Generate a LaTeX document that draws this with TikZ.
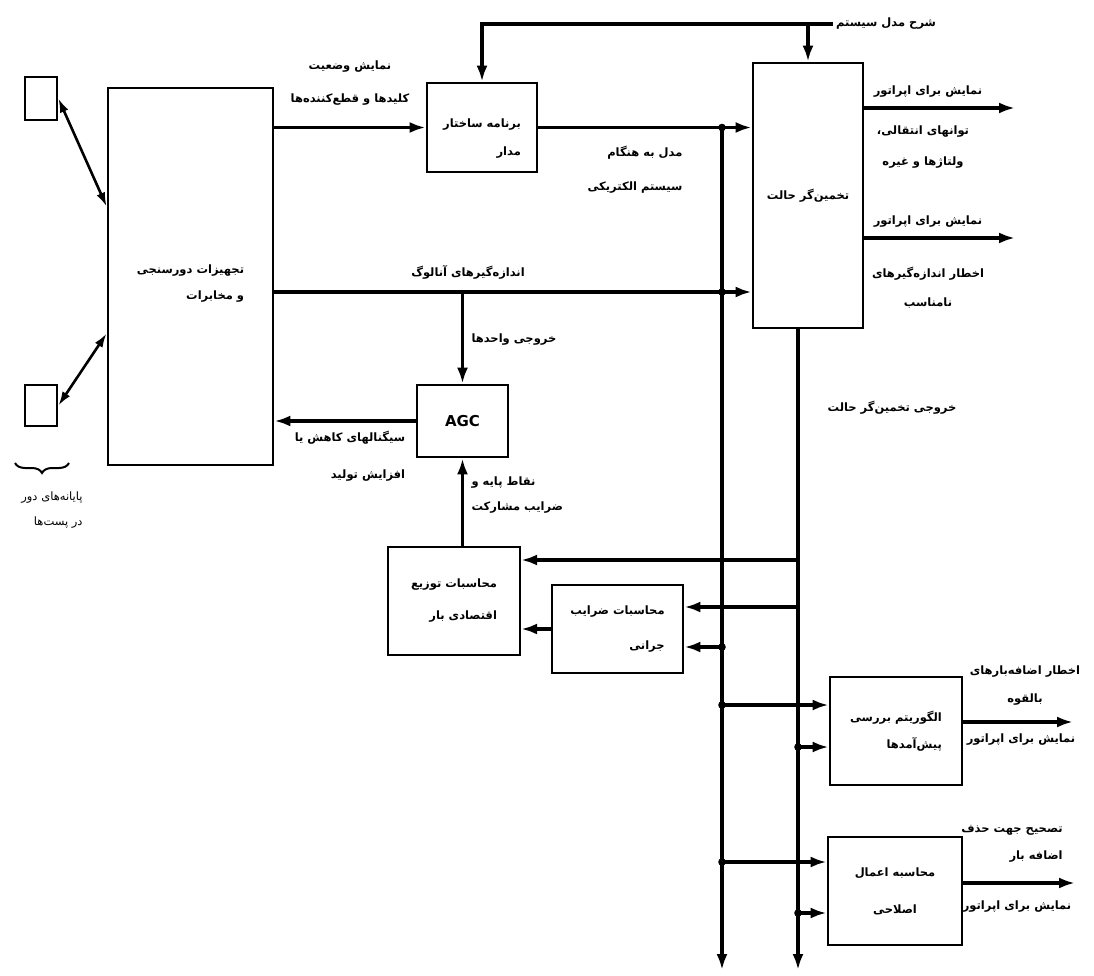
\documentclass[tikz,border=0pt]{standalone}
\usepackage{fontspec}
\usetikzlibrary{arrows.meta,decorations.pathreplacing}
\TeXXeTstate=1
\newfontfamily\persianfont[Script=Arabic]{DejaVu Sans}
\newcommand{\fatxt}[1]{\beginR #1\endR}

\begin{document}
\begin{tikzpicture}[x=1pt,y=-1pt,
  every node/.style={font=\persianfont\bfseries\fontsize{11.5}{30}\selectfont},
  lsp/.style={font=\persianfont\bfseries\fontsize{11.5}{#1}\selectfont},
  block/.style={draw,line width=2.8pt,inner sep=0pt},
  flow/.style={line width=3.3pt,-{Latex[length=16pt,width=11pt]}},
  dual/.style={line width=2.6pt,{Latex[length=14pt,width=9pt]}-{Latex[length=14pt,width=9pt]}}]

  \useasboundingbox (0,0) rectangle (1094,976);

  % blocks
  \node[block,minimum width=32pt,minimum height=43pt] (term1) at (41,98.5) {};
  \node[block,minimum width=32pt,minimum height=41pt] (term2) at (41,405.5) {};
  \node[block,minimum width=165pt,minimum height=377pt] (tele) at (190.5,276.5) {};
  \node[align=right,lsp=26] (teletxt) at ([yshift=-7pt]tele.center)
    {\fatxt{تجهیزات دورسنجی}\\\fatxt{و مخابرات}};
  \node[block,minimum width=110pt,minimum height=89pt] (prog) at (482,127.5) {};
  \node[align=right,lsp=28] (progtxt) at ([yshift=-11pt]prog.center)
    {\fatxt{برنامه ساختار}\\\fatxt{مدار}};
  \node[block,minimum width=110pt,minimum height=265pt] (se) at (808,195.5) {\fatxt{تخمین‌گر حالت}};
  \node[block,minimum width=91pt,minimum height=72pt,font=\persianfont\bfseries\fontsize{15}{18}\selectfont] (agc) at (462.5,421) {AGC};
  \node[block,line width=2.2pt,minimum width=132pt,minimum height=108pt,align=right,lsp=32] (ed) at (454,601)
    {\fatxt{محاسبات توزیع}\\\fatxt{اقتصادی بار}};
  \node[block,minimum width=131pt,minimum height=88pt,align=right,lsp=35] (pf) at (617.5,629)
    {\fatxt{محاسبات ضرایب}\\\fatxt{جرانی}};
  \node[block,minimum width=132pt,minimum height=108pt,align=right,lsp=27] (cont) at (896,731)
    {\fatxt{الگوریتم بررسی}\\\fatxt{پیش‌آمدها}};
  \node[block,minimum width=134pt,minimum height=108pt,align=center,lsp=37] (corr) at (895,891)
    {\fatxt{محاسبه اعمال}\\\fatxt{اصلاحی}};

  % labels
  \node[align=center,lsp=33] (swst) at (350,83.5) {\fatxt{نمایش وضعیت}\\\fatxt{کلیدها و قطع‌کننده‌ها}};
  \node (desc) at (886,24) {\fatxt{شرح مدل سیستم}};
  \node[align=right,lsp=34] (upd) at (635,170) {\fatxt{مدل به هنگام}\\\fatxt{سیستم الکتریکی}};
  \node (op1) at (928,92) {\fatxt{نمایش برای اپراتور}};
  \node[align=center,lsp=31] (flows) at (923,147) {\fatxt{توانهای انتقالی،}\\\fatxt{ولتاژها و غیره}};
  \node (op2) at (928,222) {\fatxt{نمایش برای اپراتور}};
  \node[align=center,lsp=29] (bad) at (928,288) {\fatxt{اخطار اندازه‌گیرهای}\\\fatxt{نامناسب}};
  \node (anlbl) at (468,272) {\fatxt{اندازه‌گیرهای آنالوگ}};
  \node[anchor=west] (units) at (468,340) {\fatxt{خروجی واحدها}};
  \node[align=right,lsp=37] (sig) at (350,456.5) {\fatxt{سیگنالهای کاهش یا}\\\fatxt{افزایش تولید}};
  \node[align=left,lsp=25,anchor=west] (base) at (468,495.5) {\fatxt{نقاط پایه و}\\\fatxt{ضرایب مشارکت}};
  \node (seout) at (892,408) {\fatxt{خروجی تخمین‌گر حالت}};
  \node[align=center,lsp=28] (owarn) at (1025,686) {\fatxt{اخطار اضافه‌بارهای}\\\fatxt{بالقوه}};
  \node (op3) at (1021,740) {\fatxt{نمایش برای اپراتور}};
  \node[align=right,lsp=27] (ccorr) at (1012,843.5) {\fatxt{تصحیح جهت حذف}\\\fatxt{اضافه بار}};
  \node (op4) at (1017,907) {\fatxt{نمایش برای اپراتور}};
  \node[align=right,font=\persianfont\fontsize{11.5}{25}\selectfont] (rtu) at (52,510)
    {\fatxt{پایانه‌های دور}\\\fatxt{در پست‌ها}};

  % bus points
  \coordinate (b1top) at (722,127.5);
  \coordinate (b1end) at (722,970);
  \coordinate (b2end) at (798,970);
  \coordinate (analog) at (462.5,292);
  \coordinate (jA) at (722,292);
  \coordinate (t1) at (798,560);
  \coordinate (t2) at (798,607);
  \coordinate (d1) at (722,647);
  \coordinate (d2) at (722,705);
  \coordinate (d3) at (798,747);
  \coordinate (d4) at (722,862);
  \coordinate (d5) at (798,913);
  \coordinate (o1) at (1015,108);
  \coordinate (o2) at (1015,238);
  \coordinate (o3) at (1073,722);
  \coordinate (o4) at (1075,883);

  % connectors
  \draw[dual] (term1.east) -- ([yshift=70pt]tele.west);
  \draw[dual] ([yshift=-57pt]tele.west) -- (term2.east);
  \draw[line width=2pt,decorate,decoration={brace,amplitude=10pt}] (69,463) -- (15,463);

  \draw[flow] (desc.west) -- (prog.north |- desc.west) -- (prog.north);
  \draw[flow] (se.north |- desc.west) -- (se.north);
  \draw[flow] (tele.east |- prog) -- (prog.west);
  \draw[flow] (prog.east) -- (se.west |- prog.east);
  \draw[flow] (tele.east |- analog) -- (se.west |- analog);
  \draw[flow] (analog) -- (agc.north);
  \draw[flow] (agc.west) -- (tele.east |- agc.west);
  \draw[flow] (agc.south |- ed.north) -- (agc.south);
  \draw[flow] (b1top) -- (b1end);
  \draw[flow] (b2end |- se.south) -- (b2end);
  \draw[flow] (t1) -- (ed.east |- t1);
  \draw[flow] (t2) -- (pf.east |- t2);
  \draw[flow] (d1) -- (pf.east |- d1);
  \draw[flow] (pf.west) -- (ed.east |- pf.west);
  \draw[flow] (d2) -- (cont.west |- d2);
  \draw[flow] (d3) -- (cont.west |- d3);
  \draw[flow] (d4) -- (corr.west |- d4);
  \draw[flow] (d5) -- (corr.west |- d5);
  \draw[flow] (se.east |- o1) -- (o1);
  \draw[flow] (se.east |- o2) -- (o2);
  \draw[flow] (cont.east |- o3) -- (o3);
  \draw[flow] (corr.east |- o4) -- (o4);

  \foreach \p in {b1top,jA,d1,d2,d3,d4,d5}
    \fill (\p) circle (3.8);
\end{tikzpicture}
\end{document}
